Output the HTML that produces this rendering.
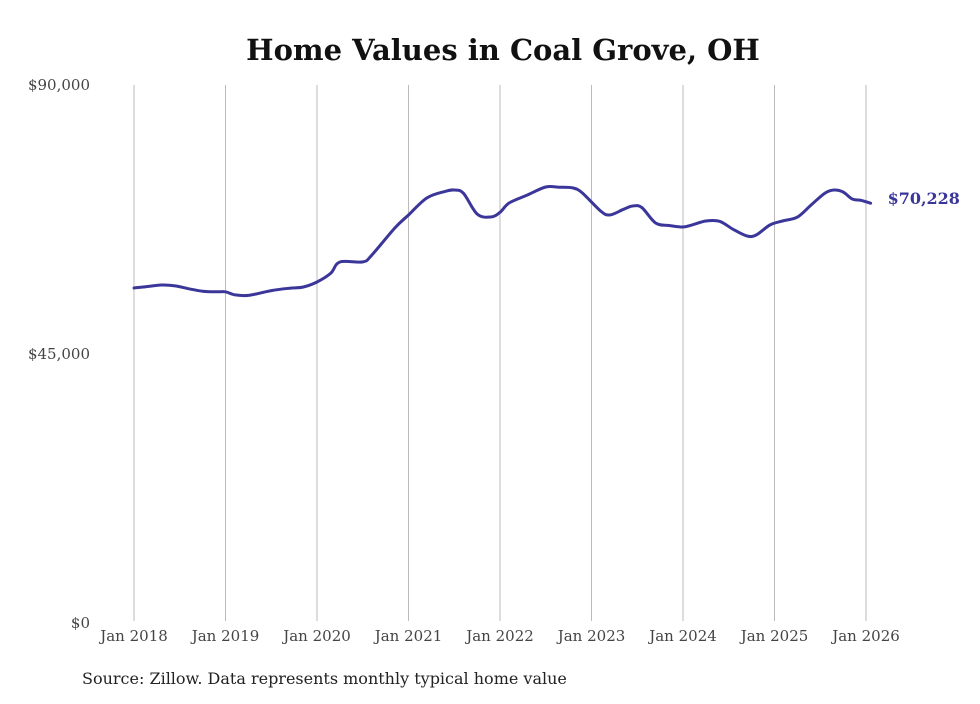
<!DOCTYPE html>
<html><head><meta charset="utf-8"><style>
body{margin:0;background:#fff;}
svg text{font-family:"DejaVu Serif","Liberation Serif",serif;}
</style></head><body>
<svg width="980" height="699" viewBox="0 0 980 699" xmlns="http://www.w3.org/2000/svg">
<rect width="980" height="699" fill="#fff"/>
<text x="503" y="60" text-anchor="middle" font-size="29" font-weight="bold" fill="#111">Home Values in Coal Grove, OH</text>
<g id="grid"></g><g id="yax"></g><g id="xax"></g><g id="series"></g>
<text x="82" y="684" font-size="16" fill="#222">Source: Zillow. Data represents monthly typical home value</text>
</svg>
<script>
const dates=[2018.0,2018.1,2018.3,2018.45,2018.6,2018.75,2018.9,2019.0,2019.1,2019.25,2019.5,2019.7,2019.85,2020.0,2020.15,2020.25,2020.5,2020.6,2020.85,2021.0,2021.2,2021.4,2021.5,2021.6,2021.75,2021.9,2022.0,2022.1,2022.3,2022.5,2022.65,2022.8,2022.9,2023.1,2023.2,2023.35,2023.45,2023.55,2023.7,2023.85,2024.0,2024.1,2024.25,2024.4,2024.55,2024.7,2024.8,2024.95,2025.1,2025.25,2025.4,2025.55,2025.65,2025.75,2025.85,2025.95,2026.05];
const values=[56040,56200,56540,56400,55900,55500,55400,55400,54900,54800,55600,56000,56200,57040,58500,60390,60400,61560,66080,68250,71100,72200,72440,71900,68420,67920,68700,70260,71600,72940,72900,72770,71930,68920,68250,69200,69760,69500,66910,66500,66250,66600,67250,67200,65840,64740,64900,66580,67300,67900,69930,71900,72440,72100,70930,70700,70228];
const yTicks=[0,45000,90000];
const yTickLabels=["$0","$45,000","$90,000"];
const xTicks=[2018,2019,2020,2021,2022,2023,2024,2025,2026];
const xTickLabels=["Jan 2018","Jan 2019","Jan 2020","Jan 2021","Jan 2022","Jan 2023","Jan 2024","Jan 2025","Jan 2026"];
const lastLabel="$70,228";
const NS="http://www.w3.org/2000/svg";
const x=d=>134+(d-2018)*91.5;
const y=v=>623-v/90000*538;
function mk(t,a,p){const e=document.createElementNS(NS,t);for(const k in a)e.setAttribute(k,a[k]);p.appendChild(e);return e;}
const grid=document.getElementById('grid'),yax=document.getElementById('yax'),xax=document.getElementById('xax'),ser=document.getElementById('series');
xTicks.forEach((d,i)=>{
 const l=mk('line',{x1:x(d),x2:x(d),y1:85,y2:621,stroke:'#bbb','stroke-width':1},grid);
 
 
 const t=mk('text',{x:x(d),y:641,'text-anchor':'middle','font-size':15,fill:'#444'},xax);
 t.textContent=xTickLabels[i];
 
 
});
yTicks.forEach((v,i)=>{
 const t=mk('text',{x:90,y:y(v)+5,'text-anchor':'end','font-size':15,fill:'#444'},yax);
 t.textContent=yTickLabels[i];
 
 
});
const pts=dates.map((dt,i)=>[x(dt),y(values[i])]);
let d='M'+pts[0][0].toFixed(1)+','+pts[0][1].toFixed(1);
for(let i=0;i<pts.length-1;i++){
 const p0=pts[Math.max(0,i-1)],p1=pts[i],p2=pts[i+1],p3=pts[Math.min(pts.length-1,i+2)];
 const c1=[p1[0]+(p2[0]-p0[0])/6,p1[1]+(p2[1]-p0[1])/6],c2=[p2[0]-(p3[0]-p1[0])/6,p2[1]-(p3[1]-p1[1])/6];
 d+='C'+c1.map(n=>n.toFixed(1)).join(',')+' '+c2.map(n=>n.toFixed(1)).join(',')+' '+p2.map(n=>n.toFixed(1)).join(',');
}
const p=mk('path',{d:d,fill:'none',stroke:'#3b3699','stroke-width':3,'stroke-linejoin':'round','stroke-linecap':'round'},ser);


const n=dates.length-1;
const lt=mk('text',{x:x(dates[n])+17,y:y(values[n])+1,'font-size':16,'font-weight':'bold',fill:'#3b3699'},ser);
lt.textContent=lastLabel;


</script>
</body></html>
